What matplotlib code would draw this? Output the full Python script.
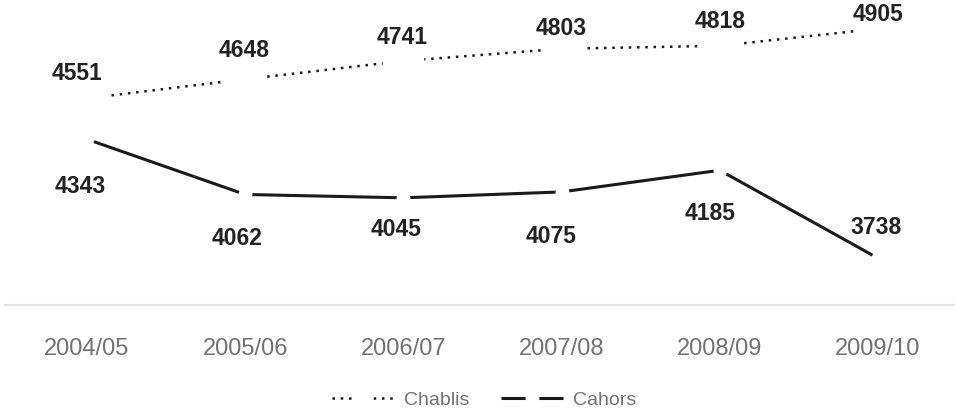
import matplotlib.pyplot as plt

seasons = ["2004/05", "2005/06", "2006/07", "2007/08", "2008/09", "2009/10"]
chablis = [4551, 4648, 4741, 4803, 4818, 4905]
cahors = [4343, 4062, 4045, 4075, 4185, 3738]

# label offsets in pixels (dx, dy) from each point
chablis_off = [(-10, 25), (-1, 29), (-1, 23), (0, 20), (0, 24), (0, 14)]
cahors_off = [(-7, -47), (-8, -44), (-7, -32), (-10, -45), (-10, -43), (-2, 31)]

plt.rcParams['font.family'] = ['Liberation Sans', 'DejaVu Sans']

fig = plt.figure(figsize=(9.55, 4.18), dpi=100)
ax = fig.add_axes([5 / 955, 1 - 305 / 418, 950 / 955, 295 / 418])

x = list(range(len(seasons)))
ax.plot(x, chablis, color='#1a1a1a', lw=1.8, linestyle=(0, (1, 2.3)),
        marker='o', ms=30, mfc='white', mec='none', label='Chablis')
ax.plot(x, cahors, color='#1a1a1a', lw=2.2, solid_capstyle='butt',
        marker='o', ms=10, mfc='white', mec='none', label='Cahors')

for xi, v, (dx, dy) in zip(x, chablis, chablis_off):
    ax.annotate(str(v), (xi, v), xytext=(dx, dy), textcoords='offset pixels',
                ha='center', va='center', fontsize=16.5, fontweight='bold',
                color='#222222', zorder=5)
for xi, v, (dx, dy) in zip(x, cahors, cahors_off):
    ax.annotate(str(v), (xi, v), xytext=(dx, dy), textcoords='offset pixels',
                ha='center', va='center', fontsize=16.5, fontweight='bold',
                color='#222222', zorder=5)

ax.set_xlim(-0.518, 5.487)
ax.set_ylim(3500, 5000)
ax.set_xticks(x)
ax.set_xticklabels(seasons)
ax.set_yticks([])
ax.tick_params(axis='x', length=0, pad=24, labelsize=17, labelcolor='#727272')
for s in ['top', 'right', 'left']:
    ax.spines[s].set_visible(False)
ax.spines['bottom'].set_color('#e3e3e3')
ax.spines['bottom'].set_linewidth(1.6)

leg = fig.legend(loc='center', bbox_to_anchor=(484 / 955, 1 - 400 / 418), ncol=2,
                 frameon=False, fontsize=14, handlelength=3.2, handletextpad=0.5,
                 columnspacing=1.65, labelcolor='#727272')
for h in leg.legend_handles:
    h.set_markersize(10)

fig.savefig('out.png', dpi=100)
